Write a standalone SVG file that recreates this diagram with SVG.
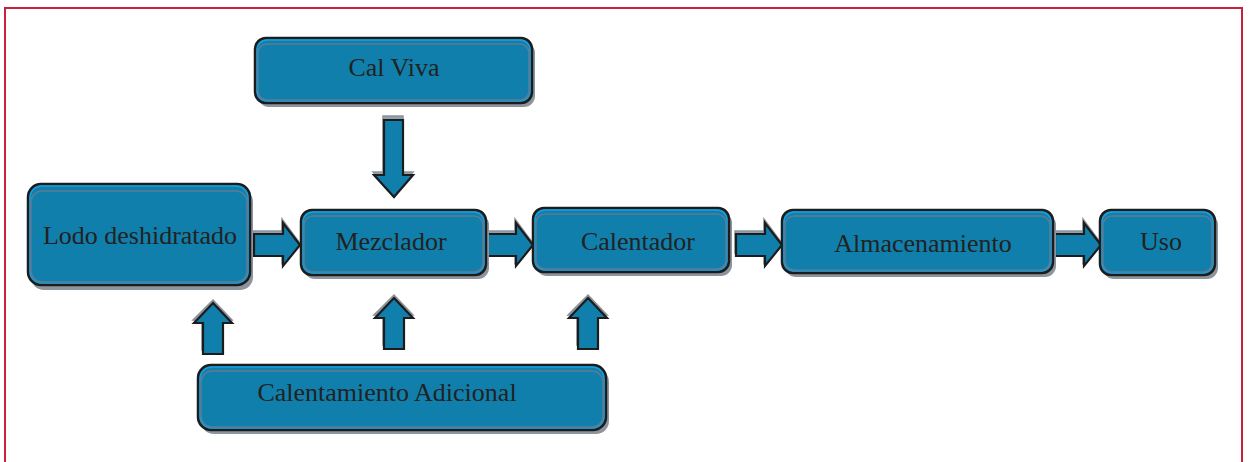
<svg xmlns="http://www.w3.org/2000/svg" width="1249" height="462" viewBox="0 0 1249 462">
  <defs>
    <style>
      .frame { fill: none; stroke: #c9203f; stroke-width: 2; }
      .shadow { fill: #8d949c; }
      .box { fill: #107fab; stroke: #1c1c1c; stroke-width: 2.5; }
      .inner { fill: none; stroke: #5b7c93; stroke-width: 1.6; }
      .rim { fill: none; stroke: #1a9ee0; stroke-width: 1.4; }
      .label { font-family: "Liberation Serif", "Times New Roman", serif; font-size: 26px; fill: #222; text-anchor: middle; }
      .ashadow { fill: #97a0a8; stroke: #8a929a; stroke-width: 1.5; }
      .arrow { fill: #107fab; stroke: #1c1c1c; stroke-width: 2.2; stroke-linejoin: miter; }
    </style>
    <!-- right-pointing block arrow, origin at body start, centred vertically -->
    <g id="arrowR">
      <path class="ashadow" d="M-1,-14 H28 V-26 L45,-3 L28,18 V8 H-1 Z"/>
      <path class="arrow" d="M0,-11 H29 V-22 L46,0 L29,21 V11 H0 Z"/>
    </g>
    <!-- up-pointing block arrow, origin at tip -->
    <g id="arrowU">
      <path class="ashadow" d="M0,-3 L19,17 H9 V47 H-11 V17 H-20 Z"/>
      <path class="arrow" d="M0,0 L19,20 H10 V51 H-10 V20 H-19 Z"/>
    </g>
  </defs>

  <rect class="frame" x="5" y="8" width="1237" height="470"/>

  <!-- connectors -->
  <g id="connectors">
    <use href="#arrowR" x="254" y="245"/>
    <use href="#arrowR" x="487" y="245"/>
    <use href="#arrowR" x="736" y="245"/>
    <use href="#arrowR" x="1055" y="245"/>
    <!-- Cal Viva down into Mezclador -->
    <g id="arrowDown">
      <path class="ashadow" d="M383,116 H403 V172 H413 L393,193 L373,172 H383 Z"/>
      <path class="arrow" d="M384,120 H403 V175 H413 L394,197 L374,175 H384 Z"/>
    </g>
    <use href="#arrowU" x="213" y="303"/>
    <use href="#arrowU" x="394" y="298"/>
    <use href="#arrowU" x="588" y="298"/>
  </g>

  <g id="calViva">
    <rect class="shadow" x="258" y="42" width="277" height="65" rx="11"/>
    <rect class="box" x="255" y="38" width="277" height="65" rx="11"/>
    <rect class="rim" x="257" y="40" width="273" height="61" rx="10"/>
    <rect class="inner" x="258" y="44" width="271" height="56" rx="9"/>
    <text class="label" x="394" y="76">Cal Viva</text>
  </g>

  <g id="lodo">
    <rect class="shadow" x="31" y="189" width="222" height="101" rx="13"/>
    <rect class="box" x="28" y="184" width="222" height="101" rx="13"/>
    <rect class="rim" x="30" y="186" width="218" height="97" rx="12"/>
    <rect class="inner" x="31" y="191" width="216" height="91" rx="11"/>
    <text class="label" x="140" y="244">Lodo deshidratado</text>
  </g>

  <g id="mezclador">
    <rect class="shadow" x="304" y="214" width="185" height="65" rx="11"/>
    <rect class="box" x="301" y="210" width="185" height="65" rx="11"/>
    <rect class="rim" x="303" y="212" width="181" height="61" rx="10"/>
    <rect class="inner" x="304" y="216" width="179" height="56" rx="9"/>
    <text class="label" x="391" y="250">Mezclador</text>
  </g>

  <g id="calentador">
    <rect class="shadow" x="536" y="212" width="196" height="64" rx="11"/>
    <rect class="box" x="533" y="208" width="196" height="64" rx="11"/>
    <rect class="rim" x="535" y="210" width="192" height="60" rx="10"/>
    <rect class="inner" x="536" y="214" width="190" height="55" rx="9"/>
    <text class="label" x="638" y="250">Calentador</text>
  </g>

  <g id="almacenamiento">
    <rect class="shadow" x="785" y="214" width="271" height="63" rx="11"/>
    <rect class="box" x="782" y="210" width="271" height="63" rx="11"/>
    <rect class="rim" x="784" y="212" width="267" height="59" rx="10"/>
    <rect class="inner" x="785" y="216" width="265" height="54" rx="9"/>
    <text class="label" x="923" y="252">Almacenamiento</text>
  </g>

  <g id="uso">
    <rect class="shadow" x="1103" y="214" width="115" height="65" rx="11"/>
    <rect class="box" x="1100" y="210" width="115" height="65" rx="11"/>
    <rect class="rim" x="1102" y="212" width="111" height="61" rx="10"/>
    <rect class="inner" x="1103" y="216" width="109" height="56" rx="9"/>
    <text class="label" x="1161" y="250">Uso</text>
  </g>

  <g id="calentamientoAdicional">
    <rect class="shadow" x="201" y="369" width="408" height="65" rx="13"/>
    <rect class="box" x="198" y="365" width="408" height="65" rx="13"/>
    <rect class="rim" x="200" y="367" width="404" height="61" rx="12"/>
    <rect class="inner" x="201" y="371" width="402" height="56" rx="11"/>
    <text class="label" x="387" y="401">Calentamiento Adicional</text>
  </g>
</svg>
